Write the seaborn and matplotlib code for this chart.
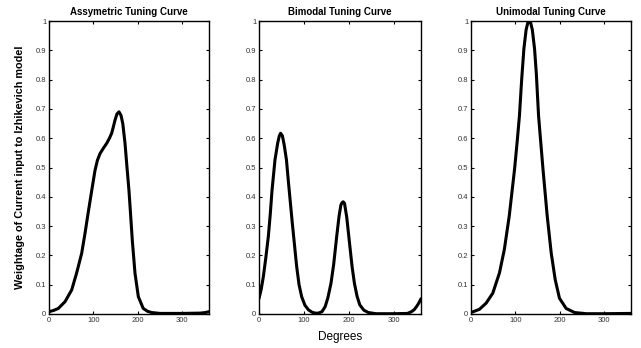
import matplotlib
matplotlib.use("Agg")
import matplotlib.pyplot as plt
import seaborn as sns
import pandas as pd

# Asymmetric tuning curve
asym_deg = [0, 10, 21, 36, 51, 62, 73.5, 81, 88.5, 96, 103.5, 109, 115, 122, 130, 136, 141,
            145, 148.6, 153, 157.5, 162, 166, 171, 175.5, 180, 184, 187.5, 193.5, 201, 212,
            222, 231, 250, 300, 340, 352, 360]
asym_val = [0.008, 0.012, 0.019, 0.042, 0.082, 0.139, 0.207, 0.275, 0.349, 0.42, 0.49, 0.525,
            0.548, 0.565, 0.583, 0.60, 0.617, 0.64, 0.662, 0.683, 0.69, 0.678, 0.65, 0.583,
            0.50, 0.42, 0.33, 0.25, 0.139, 0.059, 0.019, 0.009, 0.005, 0.002, 0.002, 0.003,
            0.005, 0.008]

# Bimodal tuning curve
bi_deg = [0, 5, 9.6, 15, 20.7, 25, 29, 35.5, 41.5, 45, 48, 52, 56, 61, 65, 74, 83.7, 89,
          94.8, 102, 110, 118, 125, 132, 140, 147, 153, 160, 166, 172.6, 178, 182, 184.5, 187,
          190, 195, 202, 207, 212, 218, 224, 233, 243, 260, 300, 330, 339, 345, 350, 355, 360]
bi_val = [0.053, 0.085, 0.127, 0.19, 0.264, 0.34, 0.423, 0.526, 0.583, 0.607, 0.617, 0.608,
          0.577, 0.526, 0.457, 0.31, 0.162, 0.10, 0.059, 0.03, 0.014, 0.006, 0.003, 0.003,
          0.008, 0.025, 0.055, 0.105, 0.17, 0.264, 0.335, 0.372, 0.38, 0.383, 0.378, 0.33,
          0.23, 0.16, 0.105, 0.06, 0.031, 0.013, 0.005, 0.001, 0.001, 0.002, 0.008, 0.015,
          0.025, 0.037, 0.052]

# Unimodal tuning curve
uni_deg = [0, 19, 34, 49, 64, 75, 86, 98, 104, 109, 114, 119, 124, 128, 131, 134, 138, 143,
           147, 152, 157, 162, 171.5, 180.5, 189.5, 199, 214, 233, 260, 300, 360]
uni_val = [0.005, 0.016, 0.037, 0.071, 0.14, 0.22, 0.334, 0.494, 0.59, 0.677, 0.80, 0.905,
           0.97, 0.995, 1.0, 0.995, 0.97, 0.905, 0.82, 0.677, 0.585, 0.494, 0.334, 0.208,
           0.117, 0.054, 0.019, 0.005, 0.001, 0.001, 0.002]

titles = ["Assymetric Tuning Curve", "Bimodal Tuning Curve", "Unimodal Tuning Curve"]
x_ticks = [0, 100, 200, 300]
y_ticks = [0, 0.1, 0.2, 0.3, 0.4, 0.5, 0.6, 0.7, 0.8, 0.9, 1]
y_tick_labels = ["0", "0.1", "0.2", "0.3", "0.4", "0.5", "0.6", "0.7", "0.8", "0.9", "1"]

sns.set_style("white")
plt.rcParams["font.family"] = ["Liberation Sans", "DejaVu Sans"]
plt.rcParams["text.color"] = "black"
plt.rcParams["axes.labelcolor"] = "black"

fig = plt.figure(figsize=(6.41, 3.48), dpi=100)
positions = [
    [49 / 641, 34 / 348, 160 / 641, 293 / 348],
    [259 / 641, 34 / 348, 162 / 641, 293 / 348],
    [471 / 641, 34 / 348, 160 / 641, 293 / 348],
]
series = [(asym_deg, asym_val), (bi_deg, bi_val), (uni_deg, uni_val)]

for i, (pos, (d, v), title) in enumerate(zip(positions, series, titles)):
    ax = fig.add_axes(pos)
    df = pd.DataFrame({"deg": d, "val": v})
    sns.lineplot(data=df, x="deg", y="val", ax=ax, color="black", linewidth=2.2)
    ax.set_xlim(0, 360)
    ax.set_ylim(0, 1)
    ax.set_xticks(x_ticks)
    ax.set_xticklabels([str(t) for t in x_ticks], fontsize=5.5, color="#333333")
    ax.set_yticks(y_ticks)
    ax.set_yticklabels(y_tick_labels, fontsize=5.5, color="#333333")
    ax.tick_params(direction="in", length=2.5, width=0.8, top=True, right=True,
                   bottom=True, left=True, pad=2, colors="black")
    for lab in ax.get_xticklabels() + ax.get_yticklabels():
        lab.set_color("#333333")
    for s in ax.spines.values():
        s.set_visible(True)
        s.set_color("black")
        s.set_linewidth(1.0)
    ax.set_title(title, fontsize=7, fontweight="bold", pad=4, color="black")
    ax.set_xlabel("")
    ax.set_ylabel("")
    if i == 0:
        ax.set_ylabel("Weightage of Current input to Izhikevich model", fontsize=7.8,
                      fontweight="bold", labelpad=8, color="black")
    if i == 1:
        ax.set_xlabel("Degrees", fontsize=8.5, labelpad=5, color="black")

fig.savefig("out.png", dpi=100)
